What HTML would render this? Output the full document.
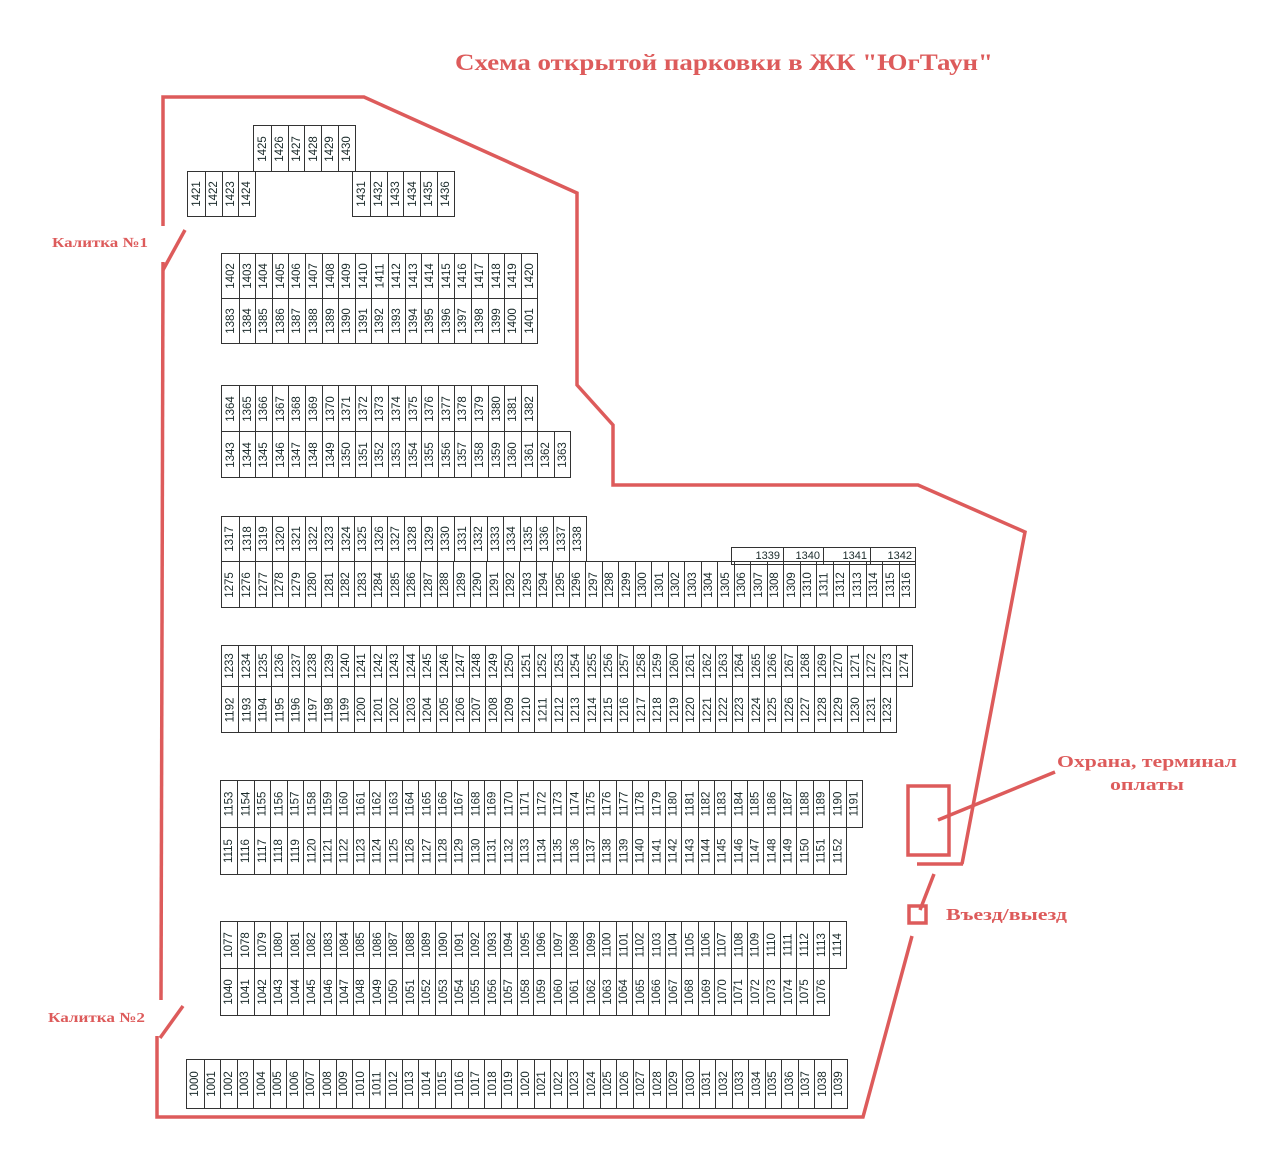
<!DOCTYPE html>
<html><head><meta charset="utf-8"><style>
html,body{margin:0;padding:0;background:#fff;width:1280px;height:1169px;overflow:hidden;position:relative}
.r{position:absolute;display:flex;border:1px solid #333;box-sizing:border-box}
.r i{font-style:normal;flex:0 0 auto;width:var(--w);height:100%;box-sizing:border-box;display:flex;align-items:center;justify-content:center;overflow:visible}
.r i+i{border-left:1px solid #333}
.r i b{display:block;transform:rotate(-90deg);font:11.5px "Liberation Sans",sans-serif;color:#1a2a2a;white-space:nowrap}
.bx{position:absolute;top:547px;height:18px;border:1px solid #333;box-sizing:border-box;font:11px "Liberation Sans Narrow","Liberation Sans",sans-serif;color:#1a2a2a;text-align:right;line-height:16px;padding-right:3px}
svg{position:absolute;left:0;top:0}
</style></head><body>
<svg width="1280" height="1169" viewBox="0 0 1280 1169">
<g fill="none" stroke="#dd5b5b" stroke-width="3.5" stroke-linejoin="miter">
<polyline points="163,226 163,97 364,97 577,193 577,385 613,425 613,485 918,485 1025,532 962,864"/>
<line x1="917" y1="864" x2="963" y2="864"/>
<line x1="163" y1="270" x2="185" y2="230"/>
<line x1="163" y1="262" x2="161" y2="1000"/>
<line x1="160" y1="1038" x2="183" y2="1006"/>
<polyline points="157,1036 157,1117 863,1117 912,936"/>
<line x1="934" y1="874" x2="920" y2="910"/>
<rect x="909" y="906" width="17" height="17"/>
<rect x="908" y="786" width="41" height="69"/>
<line x1="938" y1="820" x2="1055" y2="772"/>
</g>
<g fill="#dd5b5b" font-family="Liberation Serif, serif" font-weight="bold">
<text x="455" y="70" font-size="23" textLength="538" lengthAdjust="spacingAndGlyphs">Схема открытой парковки в ЖК "ЮгТаун"</text>
<text x="52" y="247" font-size="14" textLength="96" lengthAdjust="spacingAndGlyphs">Калитка №1</text>
<text x="48" y="1022" font-size="14" textLength="97" lengthAdjust="spacingAndGlyphs">Калитка №2</text>
<text x="1057" y="767" font-size="17" textLength="180" lengthAdjust="spacingAndGlyphs">Охрана, терминал</text>
<text x="1110" y="790" font-size="17" textLength="74" lengthAdjust="spacingAndGlyphs">оплаты</text>
<text x="946" y="920" font-size="17" textLength="121" lengthAdjust="spacingAndGlyphs">Въезд/выезд</text>
</g>
</svg>

<div class="r" style="left:253px;top:125px;height:47px;--w:16.8px"><i><b>1425</b></i><i><b>1426</b></i><i><b>1427</b></i><i><b>1428</b></i><i><b>1429</b></i><i><b>1430</b></i></div>
<div class="r" style="left:187px;top:171px;height:46px;--w:16.75px"><i><b>1421</b></i><i><b>1422</b></i><i><b>1423</b></i><i><b>1424</b></i></div>
<div class="r" style="left:352px;top:171px;height:46px;--w:16.8px"><i><b>1431</b></i><i><b>1432</b></i><i><b>1433</b></i><i><b>1434</b></i><i><b>1435</b></i><i><b>1436</b></i></div>

<div class="r" style="left:221px;top:253px;height:46px;--w:16.6px"><i><b>1402</b></i><i><b>1403</b></i><i><b>1404</b></i><i><b>1405</b></i><i><b>1406</b></i><i><b>1407</b></i><i><b>1408</b></i><i><b>1409</b></i><i><b>1410</b></i><i><b>1411</b></i><i><b>1412</b></i><i><b>1413</b></i><i><b>1414</b></i><i><b>1415</b></i><i><b>1416</b></i><i><b>1417</b></i><i><b>1418</b></i><i><b>1419</b></i><i><b>1420</b></i></div>
<div class="r" style="left:221px;top:298px;height:46px;--w:16.6px"><i><b>1383</b></i><i><b>1384</b></i><i><b>1385</b></i><i><b>1386</b></i><i><b>1387</b></i><i><b>1388</b></i><i><b>1389</b></i><i><b>1390</b></i><i><b>1391</b></i><i><b>1392</b></i><i><b>1393</b></i><i><b>1394</b></i><i><b>1395</b></i><i><b>1396</b></i><i><b>1397</b></i><i><b>1398</b></i><i><b>1399</b></i><i><b>1400</b></i><i><b>1401</b></i></div>

<div class="r" style="left:221px;top:385px;height:47px;--w:16.6px"><i><b>1364</b></i><i><b>1365</b></i><i><b>1366</b></i><i><b>1367</b></i><i><b>1368</b></i><i><b>1369</b></i><i><b>1370</b></i><i><b>1371</b></i><i><b>1372</b></i><i><b>1373</b></i><i><b>1374</b></i><i><b>1375</b></i><i><b>1376</b></i><i><b>1377</b></i><i><b>1378</b></i><i><b>1379</b></i><i><b>1380</b></i><i><b>1381</b></i><i><b>1382</b></i></div>
<div class="r" style="left:221px;top:431px;height:47px;--w:16.6px"><i><b>1343</b></i><i><b>1344</b></i><i><b>1345</b></i><i><b>1346</b></i><i><b>1347</b></i><i><b>1348</b></i><i><b>1349</b></i><i><b>1350</b></i><i><b>1351</b></i><i><b>1352</b></i><i><b>1353</b></i><i><b>1354</b></i><i><b>1355</b></i><i><b>1356</b></i><i><b>1357</b></i><i><b>1358</b></i><i><b>1359</b></i><i><b>1360</b></i><i><b>1361</b></i><i><b>1362</b></i><i><b>1363</b></i></div>

<div class="r" style="left:221px;top:516px;height:46px;--w:16.55px"><i><b>1317</b></i><i><b>1318</b></i><i><b>1319</b></i><i><b>1320</b></i><i><b>1321</b></i><i><b>1322</b></i><i><b>1323</b></i><i><b>1324</b></i><i><b>1325</b></i><i><b>1326</b></i><i><b>1327</b></i><i><b>1328</b></i><i><b>1329</b></i><i><b>1330</b></i><i><b>1331</b></i><i><b>1332</b></i><i><b>1333</b></i><i><b>1334</b></i><i><b>1335</b></i><i><b>1336</b></i><i><b>1337</b></i><i><b>1338</b></i></div>
<div class="bx" style="left:731px;width:53px">1339</div>
<div class="bx" style="left:783px;width:41px">1340</div>
<div class="bx" style="left:823px;width:48px">1341</div>
<div class="bx" style="left:870px;width:46px">1342</div>
<div class="r" style="left:221px;top:561px;height:47px;--w:16.5px"><i><b>1275</b></i><i><b>1276</b></i><i><b>1277</b></i><i><b>1278</b></i><i><b>1279</b></i><i><b>1280</b></i><i><b>1281</b></i><i><b>1282</b></i><i><b>1283</b></i><i><b>1284</b></i><i><b>1285</b></i><i><b>1286</b></i><i><b>1287</b></i><i><b>1288</b></i><i><b>1289</b></i><i><b>1290</b></i><i><b>1291</b></i><i><b>1292</b></i><i><b>1293</b></i><i><b>1294</b></i><i><b>1295</b></i><i><b>1296</b></i><i><b>1297</b></i><i><b>1298</b></i><i><b>1299</b></i><i><b>1300</b></i><i><b>1301</b></i><i><b>1302</b></i><i><b>1303</b></i><i><b>1304</b></i><i><b>1305</b></i><i><b>1306</b></i><i><b>1307</b></i><i><b>1308</b></i><i><b>1309</b></i><i><b>1310</b></i><i><b>1311</b></i><i><b>1312</b></i><i><b>1313</b></i><i><b>1314</b></i><i><b>1315</b></i><i><b>1316</b></i></div>

<div class="r" style="left:221px;top:645px;height:42px;--w:16.45px"><i><b>1233</b></i><i><b>1234</b></i><i><b>1235</b></i><i><b>1236</b></i><i><b>1237</b></i><i><b>1238</b></i><i><b>1239</b></i><i><b>1240</b></i><i><b>1241</b></i><i><b>1242</b></i><i><b>1243</b></i><i><b>1244</b></i><i><b>1245</b></i><i><b>1246</b></i><i><b>1247</b></i><i><b>1248</b></i><i><b>1249</b></i><i><b>1250</b></i><i><b>1251</b></i><i><b>1252</b></i><i><b>1253</b></i><i><b>1254</b></i><i><b>1255</b></i><i><b>1256</b></i><i><b>1257</b></i><i><b>1258</b></i><i><b>1259</b></i><i><b>1260</b></i><i><b>1261</b></i><i><b>1262</b></i><i><b>1263</b></i><i><b>1264</b></i><i><b>1265</b></i><i><b>1266</b></i><i><b>1267</b></i><i><b>1268</b></i><i><b>1269</b></i><i><b>1270</b></i><i><b>1271</b></i><i><b>1272</b></i><i><b>1273</b></i><i><b>1274</b></i></div>
<div class="r" style="left:221px;top:686px;height:47px;--w:16.45px"><i><b>1192</b></i><i><b>1193</b></i><i><b>1194</b></i><i><b>1195</b></i><i><b>1196</b></i><i><b>1197</b></i><i><b>1198</b></i><i><b>1199</b></i><i><b>1200</b></i><i><b>1201</b></i><i><b>1202</b></i><i><b>1203</b></i><i><b>1204</b></i><i><b>1205</b></i><i><b>1206</b></i><i><b>1207</b></i><i><b>1208</b></i><i><b>1209</b></i><i><b>1210</b></i><i><b>1211</b></i><i><b>1212</b></i><i><b>1213</b></i><i><b>1214</b></i><i><b>1215</b></i><i><b>1216</b></i><i><b>1217</b></i><i><b>1218</b></i><i><b>1219</b></i><i><b>1220</b></i><i><b>1221</b></i><i><b>1222</b></i><i><b>1223</b></i><i><b>1224</b></i><i><b>1225</b></i><i><b>1226</b></i><i><b>1227</b></i><i><b>1228</b></i><i><b>1229</b></i><i><b>1230</b></i><i><b>1231</b></i><i><b>1232</b></i></div>

<div class="r" style="left:220px;top:780px;height:48px;--w:16.45px"><i><b>1153</b></i><i><b>1154</b></i><i><b>1155</b></i><i><b>1156</b></i><i><b>1157</b></i><i><b>1158</b></i><i><b>1159</b></i><i><b>1160</b></i><i><b>1161</b></i><i><b>1162</b></i><i><b>1163</b></i><i><b>1164</b></i><i><b>1165</b></i><i><b>1166</b></i><i><b>1167</b></i><i><b>1168</b></i><i><b>1169</b></i><i><b>1170</b></i><i><b>1171</b></i><i><b>1172</b></i><i><b>1173</b></i><i><b>1174</b></i><i><b>1175</b></i><i><b>1176</b></i><i><b>1177</b></i><i><b>1178</b></i><i><b>1179</b></i><i><b>1180</b></i><i><b>1181</b></i><i><b>1182</b></i><i><b>1183</b></i><i><b>1184</b></i><i><b>1185</b></i><i><b>1186</b></i><i><b>1187</b></i><i><b>1188</b></i><i><b>1189</b></i><i><b>1190</b></i><i><b>1191</b></i></div>
<div class="r" style="left:220px;top:827px;height:48px;--w:16.45px"><i><b>1115</b></i><i><b>1116</b></i><i><b>1117</b></i><i><b>1118</b></i><i><b>1119</b></i><i><b>1120</b></i><i><b>1121</b></i><i><b>1122</b></i><i><b>1123</b></i><i><b>1124</b></i><i><b>1125</b></i><i><b>1126</b></i><i><b>1127</b></i><i><b>1128</b></i><i><b>1129</b></i><i><b>1130</b></i><i><b>1131</b></i><i><b>1132</b></i><i><b>1133</b></i><i><b>1134</b></i><i><b>1135</b></i><i><b>1136</b></i><i><b>1137</b></i><i><b>1138</b></i><i><b>1139</b></i><i><b>1140</b></i><i><b>1141</b></i><i><b>1142</b></i><i><b>1143</b></i><i><b>1144</b></i><i><b>1145</b></i><i><b>1146</b></i><i><b>1147</b></i><i><b>1148</b></i><i><b>1149</b></i><i><b>1150</b></i><i><b>1151</b></i><i><b>1152</b></i></div>

<div class="r" style="left:220px;top:921px;height:48px;--w:16.45px"><i><b>1077</b></i><i><b>1078</b></i><i><b>1079</b></i><i><b>1080</b></i><i><b>1081</b></i><i><b>1082</b></i><i><b>1083</b></i><i><b>1084</b></i><i><b>1085</b></i><i><b>1086</b></i><i><b>1087</b></i><i><b>1088</b></i><i><b>1089</b></i><i><b>1090</b></i><i><b>1091</b></i><i><b>1092</b></i><i><b>1093</b></i><i><b>1094</b></i><i><b>1095</b></i><i><b>1096</b></i><i><b>1097</b></i><i><b>1098</b></i><i><b>1099</b></i><i><b>1100</b></i><i><b>1101</b></i><i><b>1102</b></i><i><b>1103</b></i><i><b>1104</b></i><i><b>1105</b></i><i><b>1106</b></i><i><b>1107</b></i><i><b>1108</b></i><i><b>1109</b></i><i><b>1110</b></i><i><b>1111</b></i><i><b>1112</b></i><i><b>1113</b></i><i><b>1114</b></i></div>
<div class="r" style="left:220px;top:968px;height:48px;--w:16.45px"><i><b>1040</b></i><i><b>1041</b></i><i><b>1042</b></i><i><b>1043</b></i><i><b>1044</b></i><i><b>1045</b></i><i><b>1046</b></i><i><b>1047</b></i><i><b>1048</b></i><i><b>1049</b></i><i><b>1050</b></i><i><b>1051</b></i><i><b>1052</b></i><i><b>1053</b></i><i><b>1054</b></i><i><b>1055</b></i><i><b>1056</b></i><i><b>1057</b></i><i><b>1058</b></i><i><b>1059</b></i><i><b>1060</b></i><i><b>1061</b></i><i><b>1062</b></i><i><b>1063</b></i><i><b>1064</b></i><i><b>1065</b></i><i><b>1066</b></i><i><b>1067</b></i><i><b>1068</b></i><i><b>1069</b></i><i><b>1070</b></i><i><b>1071</b></i><i><b>1072</b></i><i><b>1073</b></i><i><b>1074</b></i><i><b>1075</b></i><i><b>1076</b></i></div>

<div class="r" style="left:186px;top:1059px;height:50px;--w:16.5px"><i><b>1000</b></i><i><b>1001</b></i><i><b>1002</b></i><i><b>1003</b></i><i><b>1004</b></i><i><b>1005</b></i><i><b>1006</b></i><i><b>1007</b></i><i><b>1008</b></i><i><b>1009</b></i><i><b>1010</b></i><i><b>1011</b></i><i><b>1012</b></i><i><b>1013</b></i><i><b>1014</b></i><i><b>1015</b></i><i><b>1016</b></i><i><b>1017</b></i><i><b>1018</b></i><i><b>1019</b></i><i><b>1020</b></i><i><b>1021</b></i><i><b>1022</b></i><i><b>1023</b></i><i><b>1024</b></i><i><b>1025</b></i><i><b>1026</b></i><i><b>1027</b></i><i><b>1028</b></i><i><b>1029</b></i><i><b>1030</b></i><i><b>1031</b></i><i><b>1032</b></i><i><b>1033</b></i><i><b>1034</b></i><i><b>1035</b></i><i><b>1036</b></i><i><b>1037</b></i><i><b>1038</b></i><i><b>1039</b></i></div>
</body></html>
